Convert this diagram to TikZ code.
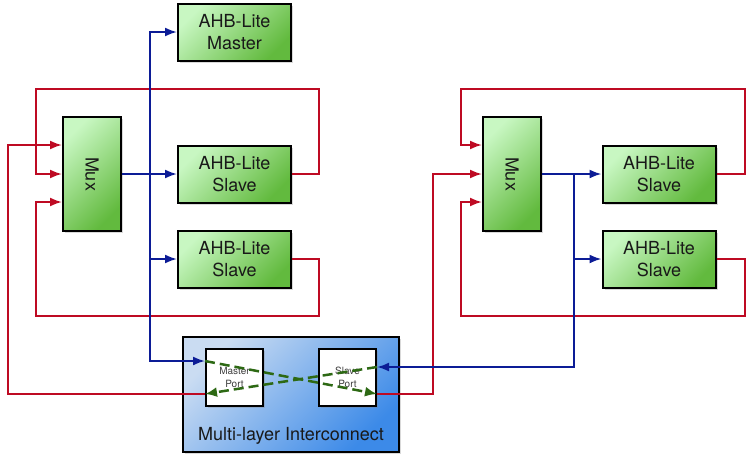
\documentclass[tikz,border=0pt]{standalone}
\usepackage{fontspec}
\setmainfont{TeX Gyre Heros}
\usetikzlibrary{arrows.meta}
\usetikzlibrary{shadows}

\definecolor{sigred}{RGB}{190,10,35}
\definecolor{sigblue}{RGB}{12,28,150}
\definecolor{xbar}{RGB}{45,105,20}
\definecolor{boxlight}{RGB}{200,247,194}
\definecolor{boxdark}{RGB}{98,186,62}
\definecolor{iclight}{RGB}{202,220,242}
\definecolor{icdark}{RGB}{60,138,232}

\begin{document}
\begin{tikzpicture}[x=1pt, y=-1pt,
        >={Latex[length=12pt,width=9pt]},
        block/.style={draw=black, line width=2pt, top color=boxlight, bottom color=boxdark,
            shading angle=45, drop shadow={shadow xshift=2pt, shadow yshift=-2pt, opacity=0.3},
            minimum width=113pt, minimum height=57pt, inner sep=0pt, align=center,
            text=black!90, font=\fontsize{18}{21.5}\selectfont},
        muxbox/.style={block, minimum width=58pt, minimum height=114pt},
        port/.style={draw=black, line width=2pt, fill=white,
            drop shadow={shadow xshift=2pt, shadow yshift=-2pt, opacity=0.3},
            minimum width=57pt, minimum height=57pt, inner sep=0pt, align=center,
            text=black!75, font=\fontsize{10}{12.5}\selectfont},
        redbus/.style={draw=sigred, line width=2pt, ->},
        bluebus/.style={draw=sigblue, line width=2pt, ->},
        xlink/.style={draw=xbar, line width=2.5pt, dash pattern=on 10pt off 5pt,
            -{Latex[length=12pt,width=10pt]}}]

        \path[use as bounding box] (0,0) rectangle (752,466);

        % left group
        \node[block] (master) at (234.5,32) {AHB-Lite\\Master};
        \node[block] (slaveLa) at (234.5,174) {AHB-Lite\\Slave};
        \node[block] (slaveLb) at (234.5,259) {AHB-Lite\\Slave};
        \node[muxbox] (muxL) at (92,174) {\rotatebox{-90}{Mux}};

        % right group
        \node[block] (slaveRa) at (659,174) {AHB-Lite\\Slave};
        \node[block] (slaveRb) at (659,259) {AHB-Lite\\Slave};
        \node[muxbox] (muxR) at (512,174) {\rotatebox{-90}{Mux}};

        % interconnect
        \node[draw=black, line width=2pt, top color=iclight, bottom color=icdark, shading angle=45,
            drop shadow={shadow xshift=2pt, shadow yshift=-2pt, opacity=0.3},
            minimum width=216pt, minimum height=115pt] (ic) at (291,394.5) {};
        \node[port] (mport) at (234.5,377.5) {Master\\Port};
        \node[port] (sport) at (347.5,377.5) {Slave\\Port};
        \node[text=black!90, font=\fontsize{18}{21.5}\selectfont] (iclabel) at (291,436) {Multi-layer Interconnect};

        % responses back to the muxes
        \draw[redbus] (slaveLa.east) -| (319,89) -| (36,174) -- (muxL.west);
        \draw[redbus] (slaveLb.east) -| (319,316) -| (36,202) -- ([yshift=-28pt]muxL.west);
        \draw[redbus] ([yshift=-16.5pt]mport.west) -| (8,145) -- ([yshift=29pt]muxL.west);

        \draw[redbus] (slaveRa.east) -| (745,89) -| (461,145) -- ([yshift=29pt]muxR.west);
        \draw[redbus] (slaveRb.east) -| (745,316) -| (461,202) -- ([yshift=-28pt]muxR.west);
        \draw[redbus] ([yshift=-16.5pt]sport.east) -| (433,174) -- (muxR.west);

        % requests
        \coordinate (jL) at (150,174);
        \draw[bluebus] (muxL.east) -- (slaveLa.west);
        \draw[bluebus] (jL) |- (master.west);
        \draw[bluebus] (jL) |- (slaveLb.west);
        \draw[bluebus] (jL) |- ([yshift=16.5pt]mport.west);

        \coordinate (jR) at (574,174);
        \draw[bluebus] (muxR.east) -- (slaveRa.west);
        \draw[bluebus] (jR) |- (slaveRb.west);
        \draw[bluebus] (jR) |- ([yshift=10.5pt]sport.east);

        % crossing inside the interconnect
        \draw[xlink] ([yshift=16.5pt]mport.west) -- ([yshift=-16.5pt]sport.east);
        \draw[xlink] ([yshift=10.5pt]sport.east) -- ([yshift=-16.5pt]mport.west);

    \end{tikzpicture}
\end{document}
